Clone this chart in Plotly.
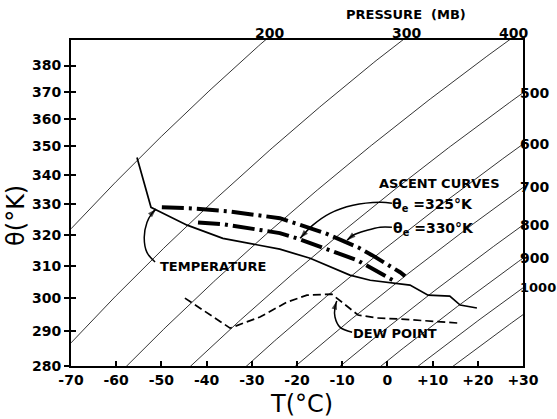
import numpy as np
import plotly.graph_objects as go

# ---------------- data ----------------
# Environmental temperature sounding (T in degC, theta in K)
temp_T = [-55.4, -52.3, -51.0, -44.3, -36.4, -28.8, -23.8, -17.1, -8.3, -3.8, 1.2, 5.0, 9.0, 13.8, 16.1, 19.8]
temp_theta = [346.1, 329.0, 328.0, 323.1, 318.8, 316.6, 315.3, 312.4, 307.1, 305.5, 304.6, 304.0, 300.9, 300.6, 297.9, 297.0]

# Dew point sounding
dew_T = [-44.8, -34.8, -28.2, -22.2, -17.8, -12.3, -9.8, -6.5, -2.3, 2.8, 15.6]
dew_theta = [300.0, 291.0, 294.3, 298.8, 300.9, 301.2, 298.5, 294.9, 294.0, 293.7, 292.5]

# Ascent curves
asc330_T = [-49.9, -43.9, -35.3, -26.6, -23.8, -16.5, -13.8, -6.5, -3.4, 2.8, 3.9]
asc330_theta = [329.0, 328.7, 327.7, 326.0, 325.4, 321.8, 320.5, 315.9, 313.4, 308.0, 306.8]
asc325_T = [-41.9, -36.4, -27.7, -23.8, -20.0, -14.9, -6.7, -2.7, 1.2]
asc325_theta = [324.0, 323.4, 321.4, 320.5, 318.8, 316.2, 311.8, 308.6, 305.5]

# Isobars (mb) of the diagram and which are labelled where
isobar_p = [200, 300, 400, 500, 600, 700, 800, 900, 1000, 1100]
top_labels = [200, 300, 400]
right_labels = [500, 600, 700, 800, 900, 1000]

# Axis ticks
x_ticks = [-70, -60, -50, -40, -30, -20, -10, 0, 10, 20, 30]
x_ticktext = ["-70", "-60", "-50", "-40", "-30", "-20", "-10", "0", "+10", "+20", "+30"]
y_ticks = [280, 290, 300, 310, 320, 330, 340, 350, 360, 370, 380]
y_ticktext = [str(v) for v in y_ticks]

# Leader (callout) curves, last point = arrow tip
lead_temp_T = [-51.4, -53.2, -53.8, -53.2, -52.1, -51.2]
lead_temp_theta = [311.2, 314.3, 319.1, 324.0, 327.0, 328.4]
lead_dew_T = [-7.8, -10.5, -11.6, -11.6, -11.2]
lead_dew_theta = [289.8, 291.3, 294.3, 297.3, 299.1]
lead325_T = [1.0, -1.6, -7.6, -12.7, -16.5, -18.7, -19.3]
lead325_theta = [330.4, 330.7, 329.7, 327.0, 323.1, 319.8, 318.8]
lead330_T = [1.0, -1.6, -4.5, -7.6, -8.9]
lead330_theta = [322.4, 322.4, 321.4, 319.8, 318.2]

T_MIN, T_MAX = -70, 30
TH_MIN, TH_MAX = 280, 390
KAPPA = 0.286

FONT = "DejaVu Sans"

def theta_of(Tc, p):
    return (np.asarray(Tc) + 273.15) * (1000.0 / p) ** KAPPA

fig = go.Figure()

# isobars
Tgrid = np.linspace(T_MIN, T_MAX, 201)
for p in isobar_p:
    fig.add_trace(go.Scatter(x=Tgrid, y=theta_of(Tgrid, p), mode="lines",
                             line=dict(color="black", width=0.8), hoverinfo="skip"))

# temperature
fig.add_trace(go.Scatter(x=temp_T, y=temp_theta, mode="lines",
                         line=dict(color="black", width=1.7)))
# dew point
fig.add_trace(go.Scatter(x=dew_T, y=dew_theta, mode="lines",
                         line=dict(color="black", width=1.7, dash="8px,4px")))
# ascent curves
for tx, ty in [(asc330_T, asc330_theta), (asc325_T, asc325_theta)]:
    fig.add_trace(go.Scatter(x=tx, y=ty, mode="lines",
                             line=dict(color="black", width=4, dash="22px,5px,3px,5px")))

# leaders with arrow heads at their ends
for tx, ty in [(lead_temp_T, lead_temp_theta), (lead_dew_T, lead_dew_theta),
               (lead325_T, lead325_theta), (lead330_T, lead330_theta)]:
    n = len(tx)
    fig.add_trace(go.Scatter(x=tx, y=ty, mode="lines", hoverinfo="skip",
                             line=dict(color="black", width=1.5, shape="spline")))
    fig.add_trace(go.Scatter(x=tx[-2:], y=ty[-2:], mode="markers", hoverinfo="skip",
                             marker=dict(symbol="arrow", angleref="previous",
                                         size=[0, 9], color="black",
                                         line=dict(width=0))))

# invisible trace for the inner tick axis
fig.add_trace(go.Scatter(x=[T_MIN], y=[TH_MIN], yaxis="y2", mode="markers",
                         marker=dict(opacity=0), hoverinfo="skip"))

ann = []

def font(size):
    return dict(family=FONT, size=size, color="black", weight="bold")

def txt(x, y, s, size=14):
    return dict(x=x, y=np.log10(y), xref="x", yref="y", text=s, showarrow=False,
                xanchor="center", yanchor="middle", font=font(size))

ann.append(txt(-38.6, 309.9, "TEMPERATURE", 13))
ann.append(txt(11.6, 337.1, "ASCENT CURVES", 13))
ann.append(txt(9.9, 329.7, "θ<sub>e</sub> =325°K", 14))
ann.append(txt(10.1, 321.7, "θ<sub>e</sub> =330°K", 14))
ann.append(txt(1.7, 289.5, "DEW POINT", 13))

# pressure labels
for p in top_labels:
    Tt = TH_MAX / (1000.0 / p) ** KAPPA - 273.15
    ann.append(dict(x=Tt, y=1, xref="x", yref="paper", text=str(p), showarrow=False,
                    xanchor="center", yanchor="bottom", xshift=4, yshift=-3,
                    font=font(14)))
for p in right_labels:
    th = float(theta_of(T_MAX, p))
    ann.append(dict(x=1, y=np.log10(th), xref="paper", yref="y", text=str(p), showarrow=False,
                    xanchor="left", yanchor="middle", xshift=-5,
                    font=font(13 if p >= 1000 else 14)))

ann.append(dict(x=0.741, y=1.077, xref="paper", yref="paper", text="PRESSURE  (MB)",
                xanchor="center", yanchor="middle",
                showarrow=False, font=font(13)))
ann.append(dict(x=0.511, y=-0.117, xref="paper", yref="paper", text="T(°C)",
                xanchor="center", yanchor="middle",
                showarrow=False, font=dict(family=FONT, size=24, color="black")))
ann.append(dict(x=-0.122, y=0.463, xref="paper", yref="paper", text="θ(°K)", textangle=-90,
                xanchor="center", yanchor="middle",
                showarrow=False, font=dict(family=FONT, size=24, color="black")))

fig.update_layout(
    width=557, height=419,
    margin=dict(l=71, r=34, t=40, b=53),
    paper_bgcolor="white", plot_bgcolor="white",
    showlegend=False,
    annotations=ann,
    xaxis=dict(range=[T_MIN, T_MAX], tickvals=x_ticks, ticktext=x_ticktext,
               ticks="inside", ticklen=5, tickwidth=1.5, tickcolor="black",
               showline=True, linewidth=2, linecolor="black", mirror=True,
               showgrid=False, zeroline=False, tickfont=font(14)),
    yaxis=dict(type="log", range=[np.log10(TH_MIN), np.log10(TH_MAX)],
               tickvals=y_ticks, ticktext=y_ticktext,
               ticks="outside", ticklen=5, tickwidth=1.5, tickcolor="black",
               showline=True, linewidth=2, linecolor="black", mirror=True,
               showgrid=False, zeroline=False, tickfont=font(14)),
    yaxis2=dict(type="log", range=[np.log10(TH_MIN), np.log10(TH_MAX)], overlaying="y",
                side="left", tickvals=y_ticks, ticks="inside", ticklen=5, tickwidth=1.5,
                tickcolor="black", showticklabels=False, showline=False, showgrid=False,
                zeroline=False),
)

fig.write_html("out.html")
